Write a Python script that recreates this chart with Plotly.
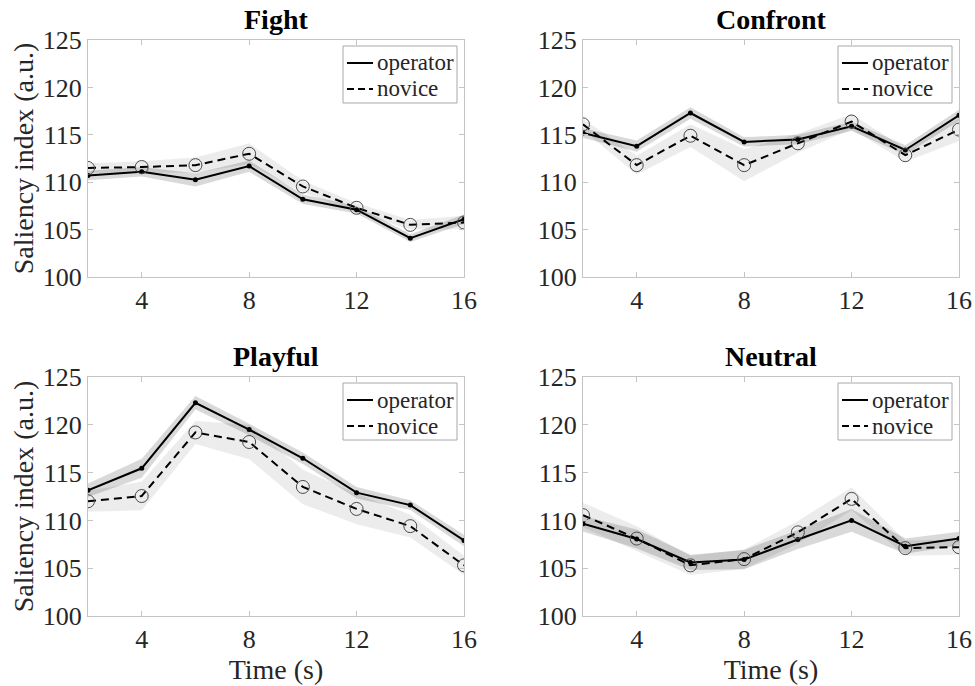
import plotly.graph_objects as go

# ---------------- data ----------------
time_s = [2, 4, 6, 8, 10, 12, 14, 16]
x_tick_vals = [4, 8, 12, 16]
y_tick_vals = [100, 105, 110, 115, 120, 125]

panel_titles = ["Fight", "Confront", "Playful", "Neutral"]
series_names = ["operator", "novice"]

fight_operator = [110.7, 111.1, 110.25, 111.7, 108.2, 107.1, 104.1, 106.1]
fight_novice = [111.5, 111.6, 111.8, 113.0, 109.55, 107.3, 105.5, 105.75]
fight_operator_sem = [0.5, 0.5, 0.7, 0.6, 0.5, 0.4, 0.4, 0.5]
fight_novice_sem = [0.5, 0.6, 0.8, 1.1, 0.6, 0.5, 0.5, 0.7]

confront_operator = [115.2, 113.8, 117.3, 114.25, 114.5, 115.9, 113.4, 117.05]
confront_novice = [116.1, 111.8, 114.9, 111.8, 114.1, 116.4, 112.85, 115.55]
confront_operator_sem = [0.5, 0.6, 0.6, 0.5, 0.5, 0.5, 0.5, 0.6]
confront_novice_sem = [0.6, 1.0, 1.2, 1.7, 1.0, 0.8, 0.7, 1.2]

playful_operator = [113.15, 115.45, 122.3, 119.5, 116.5, 112.9, 111.6, 107.9]
playful_novice = [112.0, 112.55, 119.2, 118.2, 113.5, 111.2, 109.4, 105.3]
playful_operator_sem = [0.7, 1.0, 0.7, 0.6, 0.6, 0.6, 0.5, 0.6]
playful_novice_sem = [1.1, 1.5, 1.2, 1.8, 1.8, 1.6, 1.2, 1.0]

neutral_operator = [109.65, 108.05, 105.6, 105.9, 108.0, 110.0, 107.3, 108.1]
neutral_novice = [110.55, 108.1, 105.3, 105.95, 108.75, 112.25, 107.1, 107.2]
neutral_operator_sem = [0.8, 1.0, 0.8, 1.0, 1.0, 1.2, 0.8, 0.7]
neutral_novice_sem = [1.3, 1.3, 1.0, 1.0, 1.2, 1.2, 0.8, 0.8]

panels = [
    (fight_operator, fight_operator_sem, fight_novice, fight_novice_sem),
    (confront_operator, confront_operator_sem, confront_novice, confront_novice_sem),
    (playful_operator, playful_operator_sem, playful_novice, playful_novice_sem),
    (neutral_operator, neutral_operator_sem, neutral_novice, neutral_novice_sem),
]

# ---------------- layout geometry ----------------
W, H = 975, 686
FONT = "Liberation Serif"
AX_COLOR = "#c4c4c4"
TXT = "#262626"
DASH = "8px,5px"

x_domains = [(88 / W, 464 / W), (583 / W, 959 / W)]
y_domains = [(1 - 277 / H, 1 - 40 / H), (1 - 616 / H, 1 - 377 / H)]

fig = go.Figure()

OP_BAND = "rgba(0,0,0,0.15)"
NOV_BAND = "rgba(0,0,0,0.075)"

for i, (op, op_sem, nov, nov_sem) in enumerate(panels):
    n = i + 1
    xa = "x" if n == 1 else f"x{n}"
    ya = "y" if n == 1 else f"y{n}"

    band_x = time_s + time_s[::-1]
    fig.add_trace(go.Scatter(
        x=band_x,
        y=[v + s for v, s in zip(nov, nov_sem)] + [v - s for v, s in zip(nov, nov_sem)][::-1],
        fill="toself", fillcolor=NOV_BAND, line=dict(width=0), mode="lines",
        showlegend=False, hoverinfo="skip", xaxis=xa, yaxis=ya))
    fig.add_trace(go.Scatter(
        x=band_x,
        y=[v + s for v, s in zip(op, op_sem)] + [v - s for v, s in zip(op, op_sem)][::-1],
        fill="toself", fillcolor=OP_BAND, line=dict(width=0), mode="lines",
        showlegend=False, hoverinfo="skip", xaxis=xa, yaxis=ya))
    fig.add_trace(go.Scatter(
        x=time_s, y=op, mode="lines+markers", name=series_names[0],
        line=dict(color="black", width=2),
        marker=dict(color="black", size=5, symbol="circle"),
        showlegend=False, xaxis=xa, yaxis=ya))
    fig.add_trace(go.Scatter(
        x=time_s, y=nov, mode="lines+markers", name=series_names[1],
        line=dict(color="black", width=2, dash=DASH),
        marker=dict(color="#4a4a4a", size=13, symbol="circle-open", line=dict(width=1, color="#4a4a4a")),
        showlegend=False, xaxis=xa, yaxis=ya))

layout = dict(
    template="none",
    width=W, height=H,
    margin=dict(l=0, r=0, t=0, b=0, autoexpand=False),
    paper_bgcolor="white", plot_bgcolor="white",
    font=dict(family=FONT, color=TXT, size=26),
    showlegend=False,
    annotations=[],
    shapes=[],
)

for i in range(4):
    n = i + 1
    col = i % 2
    row = i // 2
    xkey = "xaxis" if n == 1 else f"xaxis{n}"
    ykey = "yaxis" if n == 1 else f"yaxis{n}"
    xa = "x" if n == 1 else f"x{n}"
    ya = "y" if n == 1 else f"y{n}"
    layout[xkey] = dict(
        domain=list(x_domains[col]), anchor=ya, range=[2, 16], automargin=False,
        tickvals=x_tick_vals, ticks="inside", ticklen=5, tickcolor=AX_COLOR,
        showline=True, linecolor=AX_COLOR, linewidth=1, mirror="ticks",
        showgrid=False, zeroline=False,
        tickfont=dict(family=FONT, size=26, color=TXT),
        title=dict(text="Time (s)" if row == 1 else "", font=dict(family=FONT, size=28, color=TXT), standoff=2),
    )
    layout[ykey] = dict(
        domain=list(y_domains[row]), anchor=xa, range=[100, 125], automargin=False,
        tickvals=y_tick_vals, ticks="inside", ticklen=5, tickcolor=AX_COLOR,
        showline=True, linecolor=AX_COLOR, linewidth=1, mirror="ticks",
        showgrid=False, zeroline=False,
        tickfont=dict(family=FONT, size=26, color=TXT),
        title=dict(text="Saliency index (a.u.)" if col == 0 else "", font=dict(family=FONT, size=28, color=TXT), standoff=0),
    )
    # panel title
    layout["annotations"].append(dict(
        text=f"<b>{panel_titles[i]}</b>", x=sum(x_domains[col]) / 2, y=y_domains[row][1],
        xref="paper", yref="paper", xanchor="center", yanchor="bottom", yshift=3,
        showarrow=False, font=dict(family=FONT, size=28, color="black"),
    ))
    # legend box (drawn in paper coordinates relative to the panel corner)
    right = x_domains[col][1] * W
    top = (1 - y_domains[row][1]) * H
    bx0, bx1 = right - 121, right - 7
    by0, by1 = top + 6, top + 63
    layout["shapes"].append(dict(
        type="rect", xref="paper", yref="paper",
        x0=bx0 / W, x1=bx1 / W, y0=1 - by0 / H, y1=1 - by1 / H,
        line=dict(color="#a8a8a8", width=1), fillcolor="white", layer="above"))
    for k, name in enumerate(series_names):
        ly = by0 + 17 + 26 * k
        layout["shapes"].append(dict(
            type="line", xref="paper", yref="paper",
            x0=(bx0 + 4) / W, x1=(bx0 + 30) / W, y0=1 - ly / H, y1=1 - ly / H,
            line=dict(color="black", width=2, dash=None if k == 0 else "7px,4px"), layer="above"))
        layout["annotations"].append(dict(
            text=name, x=(bx0 + 32) / W, y=1 - ly / H, xref="paper", yref="paper",
            xanchor="left", yanchor="middle", showarrow=False,
            font=dict(family=FONT, size=23, color=TXT)))

fig.update_layout(**layout)
fig.write_html("out.html")
